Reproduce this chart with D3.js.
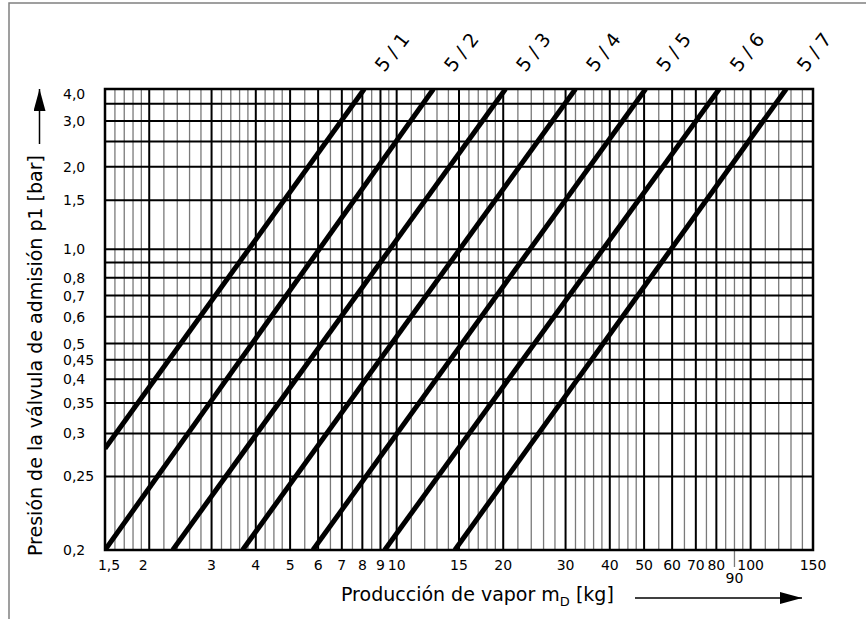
<!DOCTYPE html>
<html>
<head>
<meta charset="utf-8">
<script src="https://cdn.jsdelivr.net/npm/d3@7"></script>
<style>
  body { margin: 0; background: #fff; }
  text { font-family: "DejaVu Sans", sans-serif; fill: #000; }
</style>
</head>
<body>
<div id="chart"></div>
<script>
// valve curves (start / end of each straight line)
var valveLabels = ["5 / 1", "5 / 2", "5 / 3", "5 / 4", "5 / 5", "5 / 6", "5 / 7"];
var flowStart = [1.5, 1.5, 2.33, 3.67, 5.8, 9.25, 14.6];
var pressStart = [0.28, 0.2, 0.2, 0.2, 0.2, 0.2, 0.2];
var flowEnd = [8.1, 12.7, 20.3, 32.0, 50.5, 81.5, 126];
var pressEnd = [4.0, 4.0, 4.0, 4.0, 4.0, 4.0, 4.0];

// x grid
var xMajor = [1.5, 2, 3, 4, 5, 6, 7, 8, 9, 10, 15, 20, 30, 40, 50, 60, 70, 80, 100, 150];
var xMinor = [1.6, 1.7, 1.8, 1.9, 2.2, 2.4, 2.6, 2.8, 3.2, 3.4, 3.6, 3.8, 4.25, 4.5, 4.75,
  5.5, 6.5, 7.5, 8.5, 9.5, 11, 12, 13, 14, 16, 17, 18, 19, 22, 24, 26, 28, 32, 34, 36, 38,
  42.5, 45, 47.5, 55, 65, 75, 85, 90, 95, 110, 120, 130, 140];
var xTickValues = [1.5, 2, 3, 4, 5, 6, 7, 8, 9, 10, 15, 20, 30, 40, 50, 60, 70, 80, 90, 100, 150];
var xTickLabels = ["1,5", "2", "3", "4", "5", "6", "7", "8", "9", "10", "15", "20", "30", "40",
  "50", "60", "70", "80", "90", "100", "150"];

// y grid
var yLines = [0.2, 0.25, 0.3, 0.35, 0.4, 0.45, 0.5, 0.6, 0.7, 0.8, 0.9, 1.0, 1.5, 2.0, 2.5, 3.0, 3.5, 4.0];
var yTickValues = [0.2, 0.25, 0.3, 0.35, 0.4, 0.45, 0.5, 0.6, 0.7, 0.8, 1.0, 1.5, 2.0, 3.0, 4.0];
var yTickLabels = ["0,2", "0,25", "0,3", "0,35", "0,4", "0,45", "0,5", "0,6", "0,7", "0,8",
  "1,0", "1,5", "2,0", "3,0", "4,0"];

var svgWidth = 866;
var svgHeight = 619;
var margin = { top: 89, right: 53, bottom: 69, left: 105 };
var width = svgWidth - margin.left - margin.right;
var height = svgHeight - margin.top - margin.bottom;

var svg = d3.select("#chart")
  .append("svg")
  .attr("width", svgWidth)
  .attr("height", svgHeight);

// outer frame
svg.append("rect")
  .attr("x", 9).attr("y", 3)
  .attr("width", 900).attr("height", 700)
  .attr("fill", "none")
  .attr("stroke", "#808080")
  .attr("stroke-width", 1.5);

var chartGroup = svg.append("g")
  .attr("transform", `translate(${margin.left}, ${margin.top})`);

// scales: x is plain log, y is log of (p - 0.15)
var xScale = d3.scaleLog().domain([1.5, 150]).range([0, width]);
var pShift = 0.15;
var yLog = d3.scaleLog().domain([0.2 - pShift, 4.0 - pShift]).range([height, 0]);
var yScale = function(p) { return yLog(p - pShift); };

// minor vertical lines
chartGroup.append("g")
  .selectAll("line")
  .data(xMinor)
  .enter()
  .append("line")
  .attr("x1", d => xScale(d)).attr("x2", d => xScale(d))
  .attr("y1", 0)
  .attr("y2", d => d === 90 ? height + 17 : height)
  .attr("stroke", "#7a7a7a")
  .attr("stroke-width", 1.3);

// major vertical lines
chartGroup.append("g")
  .selectAll("line")
  .data(xMajor)
  .enter()
  .append("line")
  .attr("x1", d => xScale(d)).attr("x2", d => xScale(d))
  .attr("y1", 0).attr("y2", height)
  .attr("stroke", "#000")
  .attr("stroke-width", 2);

// horizontal lines
chartGroup.append("g")
  .selectAll("line")
  .data(yLines)
  .enter()
  .append("line")
  .attr("x1", 0).attr("x2", width)
  .attr("y1", d => yScale(d)).attr("y2", d => yScale(d))
  .attr("stroke", "#000")
  .attr("stroke-width", 2);

// frame of the plot
chartGroup.append("rect")
  .attr("width", width).attr("height", height)
  .attr("fill", "none")
  .attr("stroke", "#000")
  .attr("stroke-width", 2.5);

// x tick labels (first two sit a little off their lines in the original)
chartGroup.append("g")
  .selectAll("text")
  .data(xTickValues)
  .enter()
  .append("text")
  .attr("x", d => xScale(d))
  .attr("dx", d => d === 1.5 ? 4 : (d === 2 ? -6 : 0))
  .attr("y", d => d === 90 ? height + 33 : height + 20)
  .attr("text-anchor", "middle")
  .attr("font-size", "14px")
  .text((d, i) => xTickLabels[i]);

// y tick labels
chartGroup.append("g")
  .selectAll("text")
  .data(yTickValues)
  .enter()
  .append("text")
  .attr("x", -42)
  .attr("y", d => yScale(d))
  .attr("dy", d => d === 4.0 ? "0.7em" : "0.36em")
  .attr("font-size", "14px")
  .text((d, i) => yTickLabels[i]);

// clip for the curves
chartGroup.append("clipPath")
  .attr("id", "plotClip")
  .append("rect")
  .attr("width", width).attr("height", height);

var valves = valveLabels.map((name, i) => ({
  name: name,
  pts: [[flowStart[i], pressStart[i]], [flowEnd[i], pressEnd[i]]]
}));

var line = d3.line()
  .x(d => xScale(d[0]))
  .y(d => yScale(d[1]));

chartGroup.append("g")
  .attr("clip-path", "url(#plotClip)")
  .selectAll("path")
  .data(valves)
  .enter()
  .append("path")
  .attr("d", d => line(d.pts))
  .attr("fill", "none")
  .attr("stroke", "#000")
  .attr("stroke-width", 5);

// curve labels above the top
chartGroup.append("g")
  .selectAll("text")
  .data(valves)
  .enter()
  .append("text")
  .attr("transform", d => {
    var x = xScale(d.pts[1][0]) + 20;
    var y = yScale(d.pts[1][1]) - 16;
    return `translate(${x}, ${y}) rotate(-52)`;
  })
  .attr("font-size", "19px")
  .text(d => d.name);

// axis titles
var xTitle = svg.append("text")
  .attr("x", 341)
  .attr("y", 601)
  .attr("font-size", "19px");
xTitle.append("tspan").text("Producción de vapor m");
xTitle.append("tspan").attr("font-size", "13px").attr("dy", 5).text("D");
xTitle.append("tspan").attr("dy", -5).text(" [kg]");

svg.append("text")
  .attr("transform", "translate(42, 556) rotate(-90)")
  .attr("font-size", "19px")
  .text("Presión de la válvula de admisión p1 [bar]");

// arrows
svg.append("defs").append("marker")
  .attr("id", "arrow")
  .attr("viewBox", "0 0 22 12")
  .attr("refX", 22).attr("refY", 6)
  .attr("markerWidth", 22).attr("markerHeight", 12)
  .attr("markerUnits", "userSpaceOnUse")
  .attr("orient", "auto")
  .append("path")
  .attr("d", "M0,0 L22,6 L0,12 Z")
  .attr("fill", "#000");

svg.append("line")
  .attr("x1", 635).attr("y1", 598)
  .attr("x2", 802).attr("y2", 598)
  .attr("stroke", "#000").attr("stroke-width", 1.5)
  .attr("marker-end", "url(#arrow)");

svg.append("line")
  .attr("x1", 39.5).attr("y1", 144)
  .attr("x2", 39.5).attr("y2", 89)
  .attr("stroke", "#000").attr("stroke-width", 1.5)
  .attr("marker-end", "url(#arrow)");
</script>
</body>
</html>
